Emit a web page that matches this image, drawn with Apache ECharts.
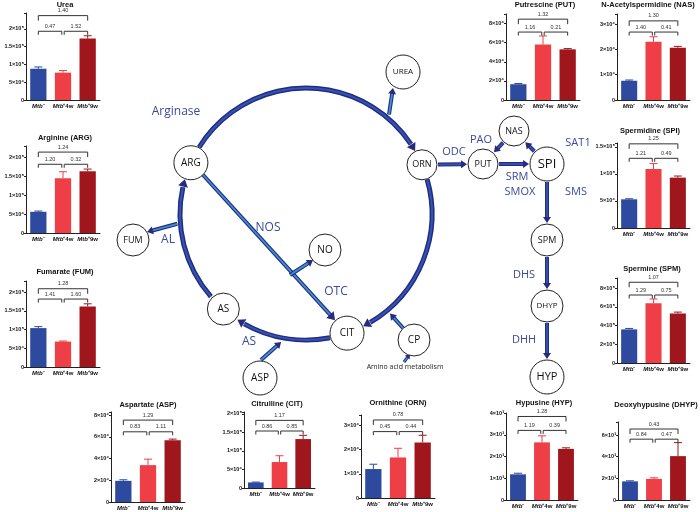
<!DOCTYPE html>
<html><head><meta charset="utf-8">
<script src="https://cdn.jsdelivr.net/npm/echarts@6/dist/echarts.min.js"></script>
<style>html,body{margin:0;padding:0;background:#fff}#c{width:700px;height:512px}</style>
</head><body><div id="c"></div>
<script>
// ---------- data ----------
const groups = ['Mtb⁻', 'Mtb⁺4w', 'Mtb⁺9w'];
const ureaMean = [88000, 77000, 173000];   const ureaErr = [5000, 6000, 8000];     const ureaP = ['0.47', '1.52', '1.40'];
const argMean  = [56000, 145000, 163000];  const argErr  = [2000, 17000, 6000];    const argP  = ['1.20', '0.32', '1.24'];
const fumMean  = [104000, 68000, 162000];  const fumErr  = [4000, 1500, 7000];     const fumP  = ['1.41', '1.60', '1.28'];
const putMean  = [16500, 58000, 53000];    const putErr  = [800, 9000, 800];       const putP  = ['1.16', '0.21', '1.32'];
const nasMean  = [7600, 23000, 20700];     const nasErr  = [300, 2000, 500];       const nasP  = ['1.40', '0.41', '1.30'];
const spiMean  = [53000, 109000, 93000];   const spiErr  = [1000, 10000, 3000];    const spiP  = ['1.21', '0.49', '1.25'];
const spmMean  = [360000, 640000, 530000]; const spmErr  = [10000, 45000, 15000];  const spmP  = ['1.29', '0.75', '1.07'];
const aspMean  = [19500, 34000, 57000];    const aspErr  = [1000, 5500, 1000];     const aspP  = ['0.83', '1.11', '1.29'];
const citMean  = [15000, 70000, 132000];   const citErr  = [1000, 17000, 10000];   const citP  = ['0.86', '0.85', '1.17'];
const ornMean  = [12000, 16800, 23000];    const ornErr  = [2000, 3800, 3000];     const ornP  = ['0.45', '0.44', '0.78'];
const hypMean  = [1180, 2650, 2350];       const hypErr  = [50, 300, 50];          const hypP  = ['1.19', '0.39', '1.28'];
const dhypMean = [1720, 1950, 4050];       const dhypErr = [50, 100, 1250];        const dhypP = ['0.84', '0.47', '0.43'];

// ---------- layout / style ----------
const barColors = ['#2d4a9e', '#ee3e46', '#a0161d'];
const panels = [
  {title: 'Urea', mean: ureaMean, err: ureaErr, p: ureaP, box: [26, 13, 74, 87], max: 245000, step: 50000, tx: 65, ty: 5, fr: [0.79, 0.97]},
  {title: 'Arginine (ARG)', mean: argMean, err: argErr, p: argP, box: [26, 146, 74, 87], max: 230000, step: 50000, tx: 65, ty: 138, fr: [0.79, 0.93]},
  {title: 'Fumarate (FUM)', mean: fumMean, err: fumErr, p: fumP, box: [26, 281, 74, 86], max: 230000, step: 50000, tx: 65, ty: 272, fr: [0.79, 0.91]},
  {title: 'Putrescine (PUT)', mean: putMean, err: putErr, p: putP, box: [506, 14, 74, 86], max: 90000, step: 20000, tx: 545, ty: 5, fr: [0.79, 0.94]},
  {title: 'N-Acetylspermidine (NAS)', mean: nasMean, err: nasErr, p: nasP, box: [617, 14, 73, 86], max: 34000, step: 10000, tx: 648, ty: 5, fr: [0.79, 0.92]},
  {title: 'Spermidine (SPI)', mean: spiMean, err: spiErr, p: spiP, box: [617, 143, 73, 85], max: 157000, step: 50000, tx: 650, ty: 131, fr: [0.82, 0.99]},
  {title: 'Spermine (SPM)', mean: spmMean, err: spmErr, p: spmP, box: [617, 278, 73, 85], max: 910000, step: 200000, tx: 652, ty: 269, fr: [0.80, 0.95]},
  {title: 'Aspartate (ASP)', mean: aspMean, err: aspErr, p: aspP, box: [111, 412, 74, 90], max: 83000, step: 20000, tx: 148, ty: 405, fr: [0.78, 0.91]},
  {title: 'Citrulline (CIT)', mean: citMean, err: citErr, p: citP, box: [244, 412, 71, 76], max: 205000, step: 50000, tx: 277, ty: 404, fr: [0.75, 0.89]},
  {title: 'Ornithine (ORN)', mean: ornMean, err: ornErr, p: ornP, box: [361, 415, 74, 83], max: 34400, step: 10000, tx: 398, ty: 403, fr: [0.80, 0.94]},
  {title: 'Hypusine (HYP)', mean: hypMean, err: hypErr, p: hypP, box: [506, 413, 72, 87], max: 4000, step: 1000, tx: 544, ty: 403, fr: [0.80, 0.96]},
  {title: 'Deoxyhypusine (DHYP)', mean: dhypMean, err: dhypErr, p: dhypP, box: [618, 422, 72, 78], max: 7200, step: 2000, tx: 656, ty: 405, fr: [0.78, 0.91]}
];

const SUP = {'0':'⁰','1':'¹','2':'²','3':'³','4':'⁴','5':'⁵','6':'⁶','7':'⁷','8':'⁸','9':'⁹'};
function sci(v) {
  if (v === 0) return '0';
  const e = Math.floor(Math.log10(v) + 1e-9);
  const m = +(v / Math.pow(10, e)).toFixed(2);
  return m + '×10' + String(e).split('').map(d => SUP[d]).join('');
}

const grid = [], xAxis = [], yAxis = [], series = [], graphic = [];
panels.forEach((pn, k) => {
  const [l, t, w, h] = pn.box;
  grid.push({left: l, top: t, width: w, height: h});
  xAxis.push({
    type: 'category', gridIndex: k, data: groups,
    axisLine: {lineStyle: {color: '#222', width: 1}},
    axisTick: {alignWithLabel: true, length: 2, lineStyle: {color: '#222'}},
    axisLabel: {
      margin: 3, interval: 0, color: '#111',
      formatter: v => '{i|Mtb}{n|' + v.slice(3) + '}',
      rich: {i: {fontSize: 6, fontStyle: 'italic', fontWeight: 'bold', fontFamily: 'Liberation Sans'},
             n: {fontSize: 6, fontWeight: 'bold', fontFamily: 'Liberation Sans'}}
    }
  });
  yAxis.push({
    type: 'value', gridIndex: k, min: 0, max: pn.max, interval: pn.step,
    axisLine: {show: true, lineStyle: {color: '#222', width: 1}},
    axisTick: {show: true, length: 2, lineStyle: {color: '#222'}},
    splitLine: {show: false},
    axisLabel: {
      fontSize: 5.5, color: '#111', margin: 2, fontFamily: 'Liberation Sans', fontWeight: 'bold',
      formatter: v => (Math.abs(v / pn.step - Math.round(v / pn.step)) < 1e-6 ? sci(v) : '')
    }
  });
  series.push({
    type: 'bar', xAxisIndex: k, yAxisIndex: k, barWidth: '66%', z: 3,
    data: pn.mean.map((v, i) => ({value: v, itemStyle: {color: barColors[i]}}))
  });
  series.push({
    type: 'custom', xAxisIndex: k, yAxisIndex: k, z: 2, silent: true,
    data: pn.mean.map((v, i) => [i, v, v + pn.err[i]]),
    renderItem: (params, api) => {
      const a = api.coord([api.value(0), api.value(1)]);
      const b = api.coord([api.value(0), api.value(2)]);
      const c = barColors[params.dataIndex];
      return {type: 'group', children: [
        {type: 'line', shape: {x1: a[0], y1: a[1], x2: b[0], y2: b[1]}, style: {stroke: c, lineWidth: 1}},
        {type: 'line', shape: {x1: b[0] - 4, y1: b[1], x2: b[0] + 4, y2: b[1]}, style: {stroke: c, lineWidth: 1}}
      ]};
    }
  });
  series.push({
    type: 'custom', xAxisIndex: k, yAxisIndex: k, z: 4, silent: true, clip: false,
    data: [[0, 1, 0, pn.p[0]], [1, 2, 0, pn.p[1]], [0, 2, 1, pn.p[2]]],
    renderItem: (params, api) => {
      const x0 = api.value(0), x1 = api.value(1), lev = api.value(2);
      const yv = pn.max * pn.fr[lev];
      const a = api.coord([x0, yv]), b = api.coord([x1, yv]);
      if (lev === 0) { if (x0 === 0) b[0] -= 1.2; else a[0] += 1.2; }
      const leg = lev ? 5 : 3.5;
      return {type: 'group', children: [
        {type: 'polyline', shape: {points: [[a[0], a[1] + leg], [a[0], a[1]], [b[0], b[1]], [b[0], b[1] + leg]]},
         style: {stroke: '#333', lineWidth: 1, fill: null}},
        {type: 'text', x: (a[0] + b[0]) / 2, y: a[1] - 2,
         style: {text: pn.p[params.dataIndex], fontSize: 5.5, fill: '#333', align: 'center', verticalAlign: 'bottom', fontFamily: 'Liberation Sans'}}
      ]};
    }
  });
  graphic.push({type: 'text', x: pn.tx, y: pn.ty, z: 5,
    style: {text: pn.title, fontSize: 7.5, fontWeight: 'bold', fill: '#111', align: 'center', verticalAlign: 'middle', fontFamily: 'Liberation Sans'}});
});

// ---------- pathway diagram ----------
const DARK = '#262b7c', MID = '#2f55b8', LIGHT = '#3d8fd6', ENZ = '#3a4a9c';
function seg(x1, y1, x2, y2, w, inner) {
  graphic.push({type: 'line', z: 6, shape: {x1, y1, x2, y2}, style: {stroke: DARK, lineWidth: w, lineCap: 'butt'}});
  graphic.push({type: 'line', z: 6, shape: {x1, y1, x2, y2}, style: {stroke: inner, lineWidth: w * 0.45}});
}
function head(x, y, ang, s) {
  const L = s * 1.5, bx = x - L * Math.cos(ang), by = y - L * Math.sin(ang);
  const nx = -Math.sin(ang), ny = Math.cos(ang);
  graphic.push({type: 'polygon', z: 6, shape: {points: [[x, y], [bx + nx * s, by + ny * s], [bx - nx * s, by - ny * s]]}, style: {fill: DARK}});
}
function arrow(x1, y1, x2, y2, w, inner, s) {
  const a = Math.atan2(y2 - y1, x2 - x1);
  seg(x1, y1, x2 - s * 1.2 * Math.cos(a), y2 - s * 1.2 * Math.sin(a), w, inner);
  head(x2, y2, a, s);
}
function link(A, B, inner, gap0, gap1) {
  const dx = B.x - A.x, dy = B.y - A.y, d = Math.hypot(dx, dy), ux = dx / d, uy = dy / d;
  const g0 = A.r + (gap0 || 1), g1 = B.r + (gap1 || 1);
  arrow(A.x + ux * g0, A.y + uy * g0, B.x - ux * g1, B.y - uy * g1, 4, inner || MID, 4);
}
function arcA(cx, cy, R, d0, d1) {
  const a0 = d0 * Math.PI / 180, a1 = d1 * Math.PI / 180;
  const back = 8 / R;
  graphic.push({type: 'arc', z: 6, shape: {cx, cy, r: R, startAngle: a0, endAngle: a1 - back, clockwise: true}, style: {stroke: DARK, lineWidth: 5, fill: null}});
  graphic.push({type: 'arc', z: 6, shape: {cx, cy, r: R, startAngle: a0, endAngle: a1 - back, clockwise: true}, style: {stroke: MID, lineWidth: 2, fill: null}});
  const px = cx + R * Math.cos(a1), py = cy + R * Math.sin(a1);
  head(px, py, a1 + Math.PI / 2 - back / 2, 5);
}
const nodeList = [];
function node(x, y, r, t, fs) { const n = {x, y, r, t, fs}; nodeList.push(n); return n; }
function drawNode(n) {
  graphic.push({type: 'circle', z: 7, shape: {cx: n.x, cy: n.y, r: n.r}, style: {fill: '#fff', stroke: '#222', lineWidth: 1}});
  graphic.push({type: 'text', z: 8, x: n.x, y: n.y, style: {text: n.t, fontSize: n.fs || 10, fill: '#111', align: 'center', verticalAlign: 'middle', fontFamily: 'Open Sans'}});
}
function enz(x, y, t, fs) {
  graphic.push({type: 'text', z: 8, x, y, style: {text: t, fontSize: fs || 12, fill: ENZ, align: 'center', verticalAlign: 'middle', fontFamily: 'Open Sans'}});
}

const CX = 306, CY = 214, R = 126;
const ptOn = deg => ({x: CX + R * Math.cos(deg * Math.PI / 180), y: CY + R * Math.sin(deg * Math.PI / 180)});
const pARG = ptOn(-156), pORN = ptOn(-23), pCIT = ptOn(71), pAS = ptOn(131);
const ARG = node(pARG.x, pARG.y, 17, 'ARG');
const ORN = node(pORN.x, pORN.y, 15, 'ORN', 9);
const CIT = node(pCIT.x, pCIT.y, 17, 'CIT');
const AS = node(pAS.x, pAS.y, 16, 'AS');
const FUM = node(133, 240, 16, 'FUM', 9);
const NO = node(325, 250, 16, 'NO');
const UREA = node(403, 72, 17, 'UREA', 8);
const CP = node(414, 340, 16, 'CP');
const ASP = node(260, 378, 17, 'ASP', 10);
const PUT = node(483, 164, 15, 'PUT', 9);
const SPI = node(547, 164, 17, 'SPI', 13);
const NAS = node(514, 131, 15, 'NAS', 9);
const SPM = node(547, 240, 16, 'SPM', 9);
const DHYP = node(547, 306, 16, 'DHYP', 8);
const HYP = node(547, 377, 17, 'HYP', 11);

arcA(CX, CY, R, -148, -30);   // ARG -> ORN
arcA(CX, CY, R, -16, 63);     // ORN -> CIT
arcA(CX, CY, R, 79, 123);     // CIT -> AS
arcA(CX, CY, R, 139, 196);    // AS -> ARG
const pU = ptOn(-50);
arrow(pU.x + 2, pU.y - 3, 393, 88, 4, LIGHT, 4);        // -> UREA
const pF = ptOn(176);
arrow(pF.x - 3, pF.y + 1, 147, 232, 4, LIGHT, 4);       // AL -> FUM
arrow(ARG.x + 12, ARG.y + 12, CIT.x - 12, CIT.y - 13, 4, LIGHT, 5);   // NOS
arrow(290, 275, NO.x - 12, NO.y + 10, 4, LIGHT, 4);     // -> NO
const pA = ptOn(100);
arrow(ASP.x + 1, ASP.y - 18, pA.x - 3, pA.y + 4, 4, LIGHT, 4);   // ASP -> arc
const pC = ptOn(50);
arrow(CP.x - 11, CP.y - 12, pC.x + 3, pC.y + 3, 4, LIGHT, 4);    // CP -> arc
arrow(404, 362, 410, 354, 3, LIGHT, 3);                  // amino acid -> CP
link(ORN, PUT);
link(PUT, SPI);
link(SPI, NAS);
link(NAS, PUT);
link(SPI, SPM);
link(SPM, DHYP);
link(DHYP, HYP);
nodeList.forEach(drawNode);

enz(176, 112, 'Arginase');
enz(268, 228, 'NOS');
enz(168, 240, 'AL');
enz(249, 342, 'AS');
enz(336, 292, 'OTC');
enz(454, 152, 'ODC', 11);
enz(481, 140, 'PAO', 11);
enz(578, 143, 'SAT1', 11);
enz(517, 177, 'SRM', 11);
enz(520, 192, 'SMOX', 11);
enz(576, 192, 'SMS', 11);
enz(524, 275, 'DHS', 11);
enz(524, 340, 'DHH', 11);
graphic.push({type: 'text', z: 8, x: 405, y: 367, style: {text: 'Amino acid metabolism', fontSize: 7, fill: '#222', align: 'center', verticalAlign: 'middle', fontFamily: 'Open Sans'}});

const chart = echarts.init(document.getElementById('c'), null, {renderer: 'canvas'});
chart.setOption({animation: false, backgroundColor: '#fff', grid, xAxis, yAxis, series, graphic});
</script>
</body></html>
